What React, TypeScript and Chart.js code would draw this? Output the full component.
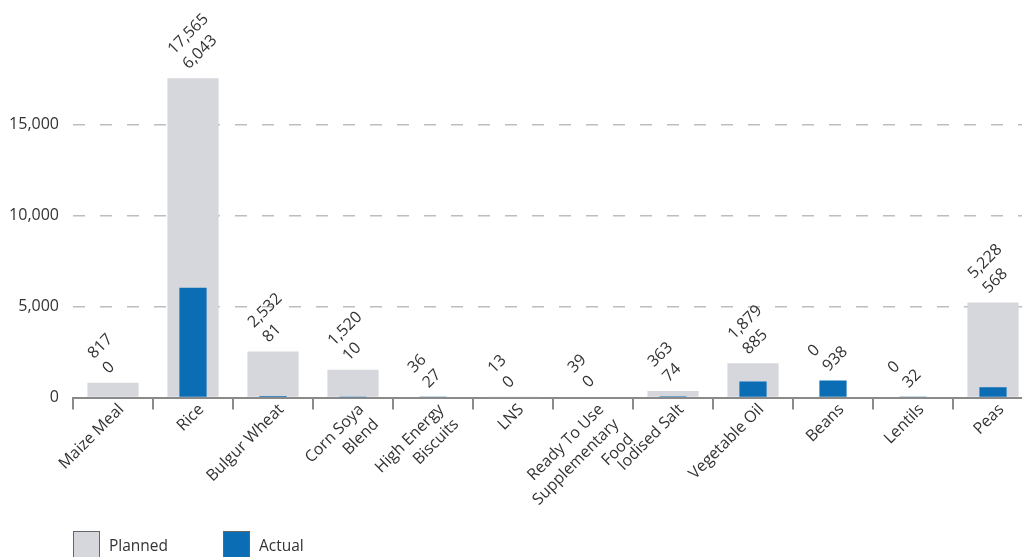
import React, { useEffect, useRef } from "react";
import { Chart, registerables } from "chart.js";

Chart.register(...registerables);

const categories: string[][] = [
  ["Maize Meal"],
  ["Rice"],
  ["Bulgur Wheat"],
  ["Corn Soya", "Blend"],
  ["High Energy", "Biscuits"],
  ["LNS"],
  ["Ready To Use", "Supplementary", "Food"],
  ["Iodised Salt"],
  ["Vegetable Oil"],
  ["Beans"],
  ["Lentils"],
  ["Peas"],
];
const planned = [817, 17565, 2532, 1520, 36, 13, 39, 363, 1879, 0, 0, 5228];
const actual = [0, 6043, 81, 10, 27, 0, 0, 74, 885, 938, 32, 568];
const yTicks = [0, 5000, 10000, 15000];

const PLANNED_COLOR = "#d6d7dc";
const ACTUAL_COLOR = "#0b6db4";
const TEXT_COLOR = "#333333";
const FONT = "Open Sans";
const LINE_H = 21;

const fmt = (v: number) => v.toLocaleString("en-US");

const dataLabelPlugin = {
  id: "dataLabels",
  afterDatasetsDraw(chart: any) {
    const { ctx } = chart;
    const xs = chart.scales.x;
    const ys = chart.scales.y;
    ctx.save();
    ctx.font = `16px "${FONT}"`;
    ctx.fillStyle = TEXT_COLOR;
    ctx.textAlign = "left";
    ctx.textBaseline = "middle";
    for (let i = 0; i < planned.length; i++) {
      const x = xs.getPixelForValue(i);
      const top = ys.getPixelForValue(Math.max(planned[i], actual[i]));
      ctx.save();
      ctx.translate(x, top);
      ctx.rotate(-Math.PI / 4);
      ctx.fillText(fmt(actual[i]), 3, -13.5);
      ctx.fillText(fmt(planned[i]), 3, -13.5 - LINE_H);
      ctx.restore();
    }
    ctx.restore();
  },
};

const categoryLabelPlugin = {
  id: "categoryLabels",
  afterDraw(chart: any) {
    const { ctx } = chart;
    const xs = chart.scales.x;
    ctx.save();
    ctx.font = `16px "${FONT}"`;
    ctx.fillStyle = TEXT_COLOR;
    ctx.textAlign = "right";
    ctx.textBaseline = "middle";
    categories.forEach((lines, i) => {
      const x = xs.getPixelForValue(i) + 8.3;
      const y = xs.top + 9.5;
      ctx.save();
      ctx.translate(x, y);
      ctx.rotate(-Math.PI / 4);
      lines.forEach((ln, k) => ctx.fillText(ln, 0, k * LINE_H));
      ctx.restore();
    });
    ctx.restore();
  },
};

const legendPlugin = {
  id: "customLegend",
  afterDraw(chart: any) {
    const { ctx } = chart;
    const items = chart.data.datasets
      .map((d: any) => ({ label: d.label, color: d.backgroundColor, ord: d.legendIndex }))
      .sort((a: any, b: any) => a.ord - b.ord);
    ctx.save();
    ctx.font = `15.5px "${FONT}"`;
    ctx.textBaseline = "alphabetic";
    ctx.textAlign = "left";
    items.forEach((it: any, k: number) => {
      const bx = 73 + k * 150;
      const by = 531;
      ctx.fillStyle = it.color;
      ctx.fillRect(bx, by, 27, 27);
      ctx.strokeStyle = "#666";
      ctx.lineWidth = 1;
      ctx.strokeRect(bx + 0.5, by + 0.5, 26, 26);
      ctx.fillStyle = TEXT_COLOR;
      ctx.fillText(it.label, bx + 36, 551);
    });
    ctx.restore();
  },
};

export default function App() {
  const ref = useRef<HTMLCanvasElement | null>(null);
  useEffect(() => {
    if (!ref.current) return;
    const chart = new Chart(ref.current, {
      type: "bar",
      data: {
        labels: categories.map((c) => c.join(" ")),
        datasets: [
          {
            label: "Planned",
            data: planned,
            backgroundColor: PLANNED_COLOR,
            barPercentage: 0.64,
            categoryPercentage: 1,
            grouped: false,
            order: 1,
            legendIndex: 0,
          } as any,
          {
            label: "Actual",
            data: actual,
            backgroundColor: ACTUAL_COLOR,
            barPercentage: 0.34,
            categoryPercentage: 1,
            grouped: false,
            order: 0,
            legendIndex: 1,
          } as any,
        ],
      },
      options: {
        animation: false,
        responsive: false,
        maintainAspectRatio: false,
        layout: { padding: { top: 34, left: 0, right: 7, bottom: 0 } },
        plugins: {
          legend: { display: false },
          tooltip: { enabled: false },
        },
        scales: {
          x: {
            offset: true,
            grid: {
              display: true,
              offset: true,
              drawOnChartArea: false,
              drawTicks: true,
              tickLength: 12,
              color: "#8a8a8a",
              lineWidth: 2,
            },
            border: { display: true, color: "#8a8a8a", width: 2 },
            ticks: { display: false, autoSkip: false },
            afterFit(scale: any) {
              scale.height = 159.5;
            },
          },
          y: {
            min: 0,
            max: 20000,
            afterBuildTicks(scale: any) {
              scale.ticks = yTicks.map((v) => ({ value: v }));
            },
            grid: {
              color: "#bdbdbd",
              lineWidth: 1.5,
              drawTicks: false,
            },
            border: { display: false, dash: [12, 15] },
            ticks: {
              padding: 14,
              color: TEXT_COLOR,
              font: { family: FONT, size: 16 },
              callback: (v: any) => fmt(Number(v)),
            },
            afterFit(scale: any) {
              scale.width = 73;
            },
          },
        },
      },
      plugins: [dataLabelPlugin, categoryLabelPlugin, legendPlugin],
    });
    return () => chart.destroy();
  }, []);

  return (
    <div
      style={{
        position: "fixed",
        left: 0,
        top: 0,
        width: 1022,
        height: 557,
        overflow: "hidden",
        background: "#fff",
      }}
    >
      <canvas ref={ref} width={1040} height={557} style={{ width: 1040, height: 557 }} />
    </div>
  );
}
